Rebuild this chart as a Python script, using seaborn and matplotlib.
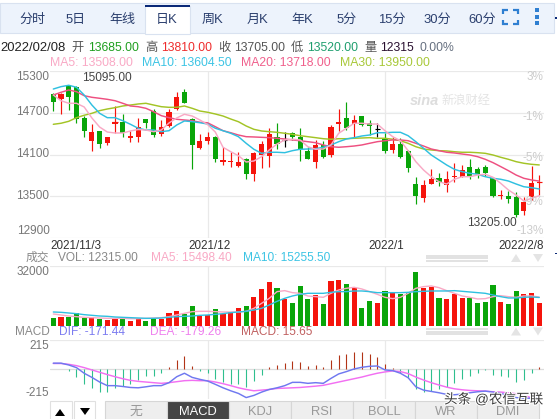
import numpy as np
import pandas as pd
import matplotlib
matplotlib.use("Agg")
import matplotlib.pyplot as plt
import matplotlib.patheffects as pe
from matplotlib.patches import Rectangle
import seaborn as sns

sns.set_theme(style="white")
plt.rcParams["font.family"] = ["Liberation Sans", "Noto Sans CJK SC", "DejaVu Sans"]

W, H = 557, 419

# candles, one entry per trading day
highs = [14980, 14977, 15095, 15090, 14653, 14538, 14438, 14356, 14797, 14678, 14442, 14620, 14610, 14750, 14596, 14750,
         14998, 15041, 14620, 14390, 14428, 14366, 14204, 14140, 14136, 14045, 14136, 14298, 14477, 14548, 14423, 14428,
         14481, 14212, 14309, 14294, 14520, 14758, 14855, 14672, 14653, 14596, 14548, 14405, 14347, 14333, 14165, 13777,
         13734, 13892, 13839, 13867, 13974, 13949, 14035, 13925, 13945, 13772, 13586, 13576, 13561, 13494, 13939, 13810]
lows = [14725, 14680, 14740, 14553, 14356, 14155, 14194, 14237, 14405, 14347, 14284, 14275, 14481, 14356, 14370, 14500,
        14740, 14836, 13892, 14179, 14247, 13992, 13949, 13916, 13925, 13748, 13724, 13906, 13916, 14175, 14212, 14309,
        14007, 14035, 13910, 14050, 14064, 14438, 14452, 14352, 14510, 14380, 14347, 14126, 14126, 14050, 13844, 13389,
        13413, 13672, 13648, 13566, 13710, 13772, 13752, 13762, 13791, 13490, 13457, 13399, 13205, 13231, 13446, 13520]
opens = [14970, 14898, 15095, 15065, 14629, 14298, 14438, 14270, 14543, 14563, 14342, 14356, 14606, 14730, 14399, 14510,
         14750, 14994, 14606, 14194, 14294, 14352, 13992, 13997, 13935, 14031, 13820, 14093, 14079, 14347, 14305, 14409,
         14356, 14150, 13992, 14237, 14093, 14543, 14625, 14538, 14653, 14557, 14460, 14327, 14165, 14251, 14150, 13676,
         13479, 13681, 13762, 13662, 13777, 13781, 13920, 13892, 13916, 13758, 13504, 13504, 13490, 13288, 13490, 13685]
closes = [14859, 14970, 14930, 14610, 14442, 14419, 14255, 14347, 14563, 14409, 14366, 14491, 14553, 14380, 14491, 14707,
          14922, 14845, 14237, 14294, 14352, 14035, 14021, 14006, 13992, 13820, 14122, 14251, 14395, 14251, 14305, 14352,
          14175, 14035, 14237, 14064, 14495, 14567, 14481, 14596, 14524, 14510, 14460, 14155, 14251, 14064, 13910, 13508,
          13662, 13748, 13700, 13744, 13787, 13877, 13796, 13820, 13830, 13504, 13514, 13465, 13231, 13418, 13691, 13705]

# price moving averages
ma5 = [14955, 14873, 14836, 14836, 14783, 14625, 14495, 14423, 14409, 14409, 14438, 14459, 14452, 14428, 14452, 14553,
       14625, 14678, 14653, 14596, 14531, 14423, 14204, 14140, 14083, 13992, 14007, 14069, 14165, 14251, 14309, 14319,
       14309, 14212, 14175, 14179, 14237, 14405, 14477, 14549, 14549, 14538, 14538, 14442, 14356, 14298, 14155, 13997,
       13877, 13781, 13709, 13676, 13744, 13781, 13781, 13805, 13816, 13773, 13686, 13590, 13518, 13432, 13471, 13508]
ma10 = [15041, 15075, 15095, 15066, 14955, 14811, 14692, 14629, 14629, 14586, 14534, 14477, 14452, 14452, 14428, 14442,
        14524, 14582, 14572, 14557, 14538, 14477, 14442, 14405, 14356, 14261, 14175, 14117, 14132, 14132, 14126, 14155,
        14175, 14179, 14184, 14204, 14237, 14284, 14323, 14342, 14366, 14380, 14413, 14413, 14419, 14419, 14370, 14284,
        14189, 14093, 14021, 13949, 13887, 13853, 13830, 13816, 13781, 13758, 13744, 13719, 13676, 13637, 13623, 13604.5]
ma20 = [14955, 14994, 15027, 15003, 14945, 14922, 14908, 14893, 14873, 14836, 14797, 14787, 14764, 14715, 14658, 14629,
        14606, 14596, 14586, 14563, 14556, 14500, 14442, 14413, 14380, 14356, 14352, 14347, 14342, 14333, 14323, 14309,
        14298, 14284, 14270, 14237, 14212, 14204, 14212, 14222, 14237, 14261, 14284, 14298, 14309, 14309, 14298, 14261,
        14222, 14179, 14155, 14132, 14122, 14107, 14093, 14069, 14031, 13983, 13926, 13868, 13805, 13758, 13734, 13718]
ma30 = [14534, 14549, 14577, 14629, 14664, 14692, 14730, 14754, 14773, 14797, 14811, 14826, 14836, 14811, 14787, 14778,
        14778, 14797, 14764, 14725, 14707, 14682, 14653, 14610, 14571, 14510, 14462, 14438, 14428, 14419, 14405, 14390,
        14370, 14356, 14342, 14327, 14319, 14327, 14327, 14333, 14337, 14342, 14333, 14333, 14319, 14298, 14261, 14212,
        14179, 14165, 14155, 14151, 14140, 14132, 14132, 14126, 14117, 14093, 14060, 14031, 13997, 13974, 13959, 13950]

# volume panel
volume = [4284, 4820, 4820, 6960, 4284, 4820, 3750, 3213, 4284, 4284, 2680, 3750, 2680, 3750, 3750, 6960,
          8030, 6425, 10710, 5355, 5890, 9100, 6425, 7675, 9640, 10710, 15530, 19810, 23560, 20350, 14460, 12315,
          21420, 14460, 16600, 11780, 24100, 24630, 22490, 20350, 9640, 13390, 12315, 18740, 18200, 17140, 17670, 28920,
          20350, 20880, 14990, 14460, 17140, 14990, 14990, 12315, 12850, 21960, 12850, 11780, 18740, 17140, 17670, 12315]
vol_ma5 = [6426, 5890, 5355, 4998, 4641, 4462, 4284, 4105, 4105, 4105, 3927, 3927, 4105, 4284, 4462, 4998,
           5890, 6783, 7675, 7854, 7854, 7675, 7497, 7497, 7497, 7854, 9460, 12138, 14815, 18385, 18920, 17850,
           17490, 16065, 15708, 15351, 17493, 19278, 20170, 20706, 19813, 18385, 16957, 15351, 14637, 15351, 17493, 20170,
           21063, 21420, 20527, 18921, 17493, 16065, 15351, 14458, 14637, 15708, 16243, 15708, 15351, 16065, 16065, 15498]
vol_ma10 = [7497, 7318, 6961, 6604, 6069, 5712, 5355, 5176, 4820, 4641, 4462, 4284, 4105, 4105, 4284, 4641,
            4998, 5176, 5355, 5712, 5890, 6247, 6604, 7140, 7497, 7854, 8568, 9460, 11245, 13209, 14815, 16065,
            16957, 17493, 17493, 17493, 18028, 18385, 18385, 18742, 18742, 18385, 17850, 17850, 17850, 17850, 18028, 18385,
            18564, 18742, 18742, 18742, 18921, 18564, 18207, 17850, 17493, 16600, 15708, 14994, 14994, 15351, 15530, 15255]

# MACD panel
dif = [37, 37, 26, 10, -24, -49, -77, -99, -99, -104, -110, -112, -106, -99, -99, -81,
       -45, -24, -49, -61, -71, -91, -112, -130, -146, -171, -158, -138, -122, -112, -99, -79,
       -79, -85, -81, -85, -55, -28, -14, 2, 12, 18, 20, -4, -8, -24, -51, -106,
       -126, -134, -142, -152, -154, -150, -142, -136, -132, -138, -146, -158, -171, -175, -175, -171.44]
dea = [35, 35, 30, 22, 10, -4, -18, -32, -45, -57, -67, -73, -77, -81, -85, -81,
       -75, -69, -67, -69, -69, -77, -87, -99, -112, -122, -130, -126, -122, -116, -114, -112,
       -110, -106, -102, -97, -87, -77, -67, -57, -47, -35, -24, -16, -10, -14, -26, -47,
       -65, -81, -95, -108, -118, -124, -128, -130, -132, -136, -138, -142, -148, -158, -172, -179.26]
macd = [4, 0, -10, -45, -89, -114, -136, -136, -116, -102, -89, -65, -41, -41, -24, 14,
        57, 79, 20, -8, -20, -59, -77, -89, -89, -110, -73, -35, 14, 28, 37, 53,
        45, 20, 26, 14, 57, 85, 93, 106, 102, 93, 73, 32, 6, -20, -55, -120,
        -138, -130, -122, -106, -81, -61, -39, -24, -6, -32, -41, -49, -75, -65, -20, 15.65]

date_labels = ["2021/11/3", "2021/12", "2022/1", "2022/2/8"]
month_starts = [20, 43]
price_labels = ["15300", "14700", "14100", "13500", "12900"]
price_grid = [15300, 14700, 14100, 13500, 12900]
pct_labels = ["3%", "-1%", "-5%", "-9%", "-13%"]
top_tabs = ["分时", "5日", "年线", "日K", "周K", "月K", "年K", "5分", "15分", "30分", "60分"]
bottom_tabs = ["无", "MACD", "KDJ", "RSI", "BOLL", "WR", "DMI"]

RED = "#f5140c"
GREEN = "#09a509"
C_MA5 = "#f9a9c5"
C_MA10 = "#2fc0e0"
C_MA20 = "#ee4f80"
C_MA30 = "#a3c425"
GRID = "#e9e9e9"

idx = np.arange(len(closes))
opens_a, closes_a = np.array(opens), np.array(closes)
up = closes_a >= opens_a
flat = closes_a == opens_a
XLIM = (-0.43, 63.55)


def px_axes(left, top, right, bottom):
    # axes placed by pixel box of the 557x419 picture
    ax = fig.add_axes([left / W, 1 - bottom / H, (right - left) / W, (bottom - top) / H])
    ax.patch.set_visible(False)
    for s in ax.spines.values():
        s.set_visible(False)
    ax.tick_params(left=False, bottom=False, labelleft=False, labelbottom=False)
    return ax


def finish(ax, ylim):
    ax.set_xlim(*XLIM)
    ax.set_ylim(*ylim)
    ax.set(xlabel="", ylabel="")
    for m in month_starts:
        ax.axvline(m, color=GRID, lw=0.9, zorder=0)


fig = plt.figure(figsize=(W / 100, H / 100), dpi=100, facecolor="white")

# price panel
ax_p = px_axes(50, 71, 543.5, 238)
for g in price_grid:
    ax_p.axhline(g, color=GRID, lw=0.9, zorder=0)
wick_colors = ["black" if f else (RED if u else GREEN) for u, f in zip(up, flat)]
ax_p.vlines(idx, lows, highs, colors=wick_colors, lw=0.85, zorder=2)
body_low = np.minimum(opens_a, closes_a)
body_h = np.abs(closes_a - opens_a)
body_colors = [RED if u else GREEN for u in up]
ax_p.bar(idx[~flat], body_h[~flat], bottom=body_low[~flat], width=0.66, linewidth=0,
         color=[c for c, f in zip(body_colors, flat) if not f], zorder=3)
ax_p.hlines(closes_a[flat], idx[flat] - 0.33, idx[flat] + 0.33, colors="black", lw=0.85, zorder=3)
ax_p.hlines(closes_a[body_h == 20], idx[body_h == 20] - 0.33, idx[body_h == 20] + 0.33, colors=RED, lw=0.85, zorder=3)
for series, col in [(ma30, C_MA30), (ma20, C_MA20), (ma10, C_MA10), (ma5, C_MA5)]:
    sns.lineplot(x=idx, y=series, color=col, lw=1.05, errorbar=None, ax=ax_p, zorder=4)
finish(ax_p, (12900, 15300))

# volume panel
ax_v = px_axes(50, 266.2, 543.5, 326)
ax_v.axhline(32000, color=GRID, lw=0.9, zorder=0)
vol_df = pd.DataFrame({"idx": idx, "vol": volume, "side": np.where(up, "up", "down")})
sns.barplot(data=vol_df, x="idx", y="vol", hue="side", palette={"up": RED, "down": GREEN}, native_scale=True,
            dodge=False, width=0.66, saturation=1, legend=False, linewidth=0, ax=ax_v, zorder=2)
sns.lineplot(x=idx, y=vol_ma5, color=C_MA5, lw=1.0, errorbar=None, ax=ax_v, zorder=4)
sns.lineplot(x=idx, y=vol_ma10, color=C_MA10, lw=1.0, errorbar=None, ax=ax_v, zorder=4)
finish(ax_v, (0, 32000))

# MACD panel
ax_m = px_axes(50, 340, 543.5, 399.3)
ax_m.axhline(177, color=GRID, lw=0.9, zorder=0)
ax_m.axhline(0, color="#dddddd", lw=0.9, zorder=0)
macd_a = np.array(macd)
ax_m.vlines(idx, 0, macd_a, colors=np.where(macd_a >= 0, "#b23416", "#2fbf8e"), lw=0.8, zorder=2)
sns.lineplot(x=idx, y=dea, color="#f26ff2", lw=1.05, errorbar=None, ax=ax_m, zorder=3)
sns.lineplot(x=idx, y=dif, color="#6f78f0", lw=1.05, errorbar=None, ax=ax_m, zorder=4)
finish(ax_m, (-181.5, 177))

# page chrome, in picture pixels
ax_c = fig.add_axes([0, 0, 1, 1], zorder=10)
ax_c.set_xlim(0, W)
ax_c.set_ylim(H, 0)
ax_c.axis("off")
ax_c.patch.set_visible(False)


def label(x, y, s, color, size=8.8, ha="left", **kw):
    ax_c.text(x, y, s, color=color, fontsize=size, ha=ha, va="center", **kw)


def box(x0, y0, x1, y1, fc, ec="none", lw=0.8, z=1):
    ax_c.add_patch(Rectangle((x0, y0), x1 - x0, y1 - y0, facecolor=fc, edgecolor=ec, lw=lw, zorder=z))


# top tabs
box(0, 3, 553.7, 33, "#edf3fc", "#d9e2f0")
box(145, 6, 189.5, 33.6, "white", "#d9e2f0", z=2)
box(145, 5.5, 189.5, 7.5, "#0b2a78", z=3)
tab_x = [32, 76, 122, 167, 212, 257, 302, 347, 392, 437, 482]
for x, s in zip(tab_x, top_tabs):
    label(x, 20, s, "#2b3f6e", size=9.4, ha="center", zorder=4)
BLUE = "#2f7fd1"
for xa, xb, ya, yb in [(503, 508, 10, 14), (518, 513, 10, 14), (503, 508, 24, 20), (518, 513, 24, 20)]:
    ax_c.plot([xb, xa, xa], [ya, ya, yb], color=BLUE, lw=1.6, solid_capstyle="butt", solid_joinstyle="miter", zorder=4)
ax_c.scatter([537, 537, 537], [10.5, 17, 23.5], s=7, marker="s", color=BLUE, lw=0, zorder=4)
box(554.5, 17.5, 557, 18.8, "#0b2a78")
box(554.5, 253, 557, 254.3, "#0b2a78")

# quote rows
label(0, 48, "2022/02/08", "#222222", size=9.4)
label(71, 48, "开", "#555555")
label(88, 48, "13685.00", "#1f9e1f")
label(145, 48, "高", "#555555")
label(161, 48, "13810.00", "#ee2c2c")
label(218, 48, "收", "#555555")
label(234, 48, "13705.00", "#555555")
label(291, 48, "低", "#555555")
label(307, 48, "13520.00", "#1f9e6e")
label(364, 48, "量", "#555555")
label(380, 48, "12315", "#2a1030")
label(420, 48, "0.00%", "#667080")

label(50, 63, "MA5: 13508.00", C_MA5)
label(142, 63, "MA10: 13604.50", "#3cc4e4")
label(241, 63, "MA20: 13718.00", "#f0608c")
label(340, 63, "MA30: 13950.00", "#a8c838")

# axis labels
for y, s in zip([77, 112, 153.5, 196, 231], price_labels):
    label(49.5, y, s, "#777777", size=8.5, ha="right")
for y, s in zip([77, 117, 158, 201.5, 231], pct_labels):
    label(543.7, y, s, "#cccccc", size=8.5, ha="right")
label(82, 78, "15095.00", "#444444", size=8.6)
label(467, 223, "13205.00", "#444444", size=8.6)
label(50, 246, date_labels[0], "#333333", size=8.4)
label(209.5, 246, date_labels[1], "#333333", size=8.4, ha="center")
label(386.5, 246, date_labels[2], "#333333", size=8.4, ha="center")
label(544, 246, date_labels[3], "#333333", size=8.4, ha="right")

# volume / MACD headers
label(49.5, 257.5, "成交", "#888888", size=8.5, ha="right")
label(58, 257.5, "VOL: 12315.00", "#888888", size=8.6)
label(151, 257.5, "MA5: 15498.40", C_MA5, size=8.6)
label(243, 257.5, "MA10: 15255.50", "#3cc4e4", size=8.6)
label(49.5, 272, "32000", "#777777", size=8.5, ha="right")
label(49.5, 331.5, "MACD", "#888888", size=8.5, ha="right")
label(59, 331.5, "DIF: -171.44", "#7c7cf0", size=8.6)
label(150, 331.5, "DEA: -179.26", "#ee80ee", size=8.6)
label(241, 331.5, "MACD: 15.65", "#c06060", size=8.6)
label(49.5, 346, "215", "#777777", size=8.5, ha="right")
label(49.5, 393, "-215", "#777777", size=8.5, ha="right")

# little scroll controls at the right of both headers
for yc in (258, 331.5):
    gx, gy = np.meshgrid(np.arange(427, 488, 2.0), [yc - 2.5, yc, yc + 2.5])
    ax_c.scatter(gx.ravel(), gy.ravel(), s=1.6, marker="s", color="#e2e2e2", lw=0)
    ax_c.fill([511, 521, 516], [yc + 4, yc + 4, yc - 4], color="#e4e4e4", lw=0)
    ax_c.fill([533, 543, 538], [yc - 4, yc - 4, yc + 4], color="#e4e4e4", lw=0)

# sina watermark
ax_c.text(410, 101, "sina", color="#dddddd", fontsize=10.5, fontweight="bold", style="italic", va="center")
ax_c.text(441, 101, "新浪财经", color="#e4e4e4", fontsize=8.8, va="center")

# bottom tabs
box(50, 400.5, 72, 419.5, "white", "#e0e0e0")
box(74, 400.5, 95, 419.5, "white", "#e0e0e0")
ax_c.fill([55, 65, 60], [416, 416, 409], color="black", lw=0, zorder=3)
ax_c.fill([80, 90, 85], [408, 408, 415], color="black", lw=0, zorder=3)
for i, s in enumerate(bottom_tabs):
    x0 = 105 + 62 * i
    on = s == "MACD"
    box(x0, 400.5, x0 + 62, 419.5, "#454545" if on else "#eeeeee", "#d6d6d6", z=2)
    label(x0 + 31, 411.5, s, "white" if on else "#999999", size=9.3, ha="center", zorder=3)

# toutiao watermark
ax_c.text(444, 399.5, "头条 @农信互联", color="#3a3a3a", fontsize=9.8, va="center", zorder=6,
          path_effects=[pe.withStroke(linewidth=1.5, foreground="white")])

fig.savefig("out.png", dpi=100)
plt.close(fig)
